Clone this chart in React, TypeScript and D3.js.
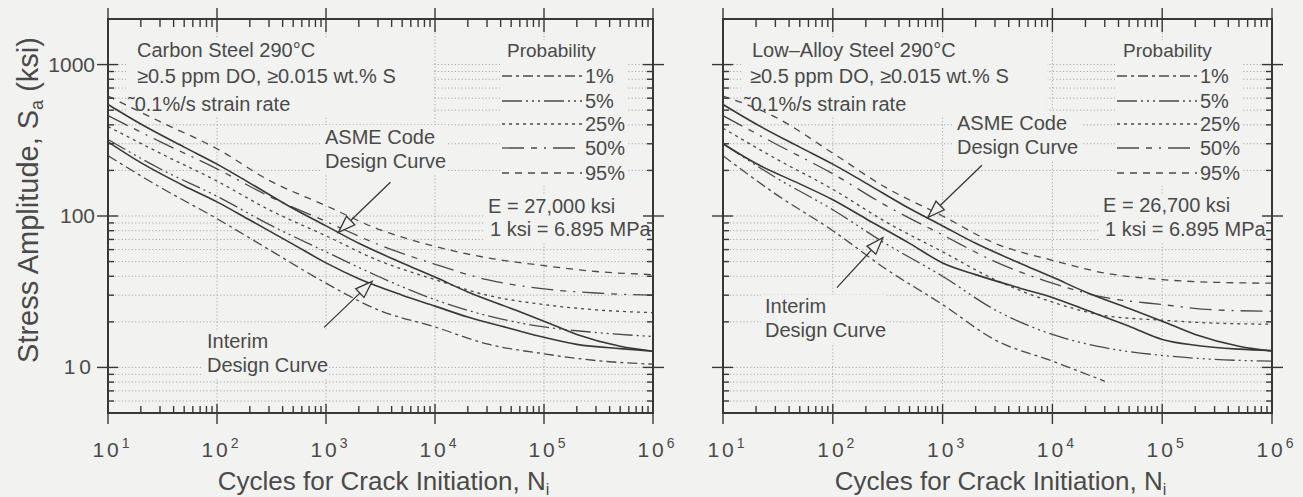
import React from 'react';
import * as d3 from 'd3';

// Cycle grid shared by the two design curves
const cycles = [10, 20, 50, 100, 200, 500, 1e3, 2e3, 5e3, 1e4, 2e4, 5e4, 1e5, 2e5, 5e5, 1e6];
// ASME Code design curve (carbon and low-alloy steels), ksi
const asmeDesign = [545, 405, 285, 220, 165, 112, 86, 66, 49, 39.5, 31.5, 24.5, 20.2, 16.5, 13.8, 12.8];
// Interim design curves, ksi
const csInterim = [309, 225, 158, 124, 94, 65, 49, 38.5, 30, 25.4, 21.5, 18, 15.8, 14.2, 13.3, 12.8];
const lasInterim = [300, 222, 163, 128, 96, 66, 49, 41, 33.5, 29, 24, 18.7, 15.3, 14, 13.2, 12.9];

// Cycle grid for the probabilistic curves
const pCycles = [10, 30, 100, 300, 1e3, 3e3, 1e4, 3e4, 1e5, 3e5, 1e6];
// Carbon steel, probability curves (ksi)
const cs1 = [250, 155, 96, 60, 36, 24, 18.5, 14.3, 12.3, 11.1, 10.5];
const cs5 = [320, 205, 135, 88, 58, 40, 28, 22, 18.5, 17, 16];
const cs25 = [390, 260, 170, 110, 74, 51, 38, 30, 26, 24, 23];
const cs50 = [460, 310, 205, 135, 92, 65, 48, 38, 33, 31, 30];
const cs95 = [620, 420, 278, 172, 117, 82, 63, 53, 47, 43, 41];
// Low-alloy steel, probability curves (ksi)
const las1 = [250, 140, 80, 45, 26, 15.2, 11, 8.1];
const las5 = [300, 180, 110, 66, 40, 24, 16.5, 13.5, 12, 11.3, 11];
const las25 = [380, 240, 150, 92, 58, 38, 27, 22, 20.5, 19.6, 19.3];
const las50 = [460, 300, 190, 118, 75, 50, 36, 29, 26, 24, 23.5];
const las95 = [620, 450, 260, 155, 100, 66, 51, 42, 38, 36.5, 36];

const probLabels = ['1%', '5%', '25%', '50%', '95%'];
const probDashes = ['10,4,3,4', '20,4,2,4,2,4,2,4', '3,4', '22,7,6,7,2,7', '7,6'];

const xDecades = [1, 2, 3, 4, 5, 6];
const yLabels = [
  { v: 1000, t: '1000' },
  { v: 100, t: '100' },
  { v: 10, t: '10' },
];

const FONT = '"Liberation Sans", Arial, Helvetica, sans-serif';
const INK = '#383838';
const TEXT = '#4a4a4a';
const GRID = '#a9a9a9';
const BG = '#f2f2f0';

type Pt = [number, number];
const zip = (xs: number[], ys: number[]): Pt[] =>
  ys.map((v, i) => [xs[i], v] as Pt);

type PanelCfg = {
  id: string;
  left: number;
  right: number;
  top: number;
  bottom: number;
  yLabels: boolean;
  header: string[];
  headerX: number[];
  probs: number[][];
  interim: number[];
  probTitleX: number;
  legendLine: [number, number];
  labelX: number;
  eText: string;
  eXY: [number, number];
  convXY: [number, number];
  asmeXY: [number, number];
  interimXY: [number, number];
  asmeArrow: { tip: Pt; dx: number; dy: number };
  interimArrow: { tip: Pt; dx: number; dy: number };
  masks: [number, number, number, number][];
};

const panels: PanelCfg[] = [
  {
    id: 'cs',
    left: 108,
    right: 653,
    top: 19,
    bottom: 413,
    yLabels: true,
    header: ['Carbon Steel 290°C', '≥0.5 ppm DO, ≥0.015 wt.% S', '˜0.1%/s strain rate'],
    headerX: [137, 137, 128],
    probs: [cs1, cs5, cs25, cs50, cs95],
    interim: csInterim,
    probTitleX: 507,
    legendLine: [502, 582],
    labelX: 585,
    eText: 'E = 27,000 ksi',
    eXY: [488, 213],
    convXY: [490, 236],
    asmeXY: [325, 144],
    interimXY: [207, 348],
    asmeArrow: { tip: [1300, 78], dx: 52, dy: -50 },
    interimArrow: { tip: [2650, 37], dx: -48, dy: 46 },
    masks: [
      [126, 38, 306, 79],
      [500, 40, 126, 146],
      [484, 194, 168, 48],
      [321, 125, 126, 49],
      [203, 330, 124, 48],
    ],
  },
  {
    id: 'las',
    left: 723,
    right: 1272,
    top: 19,
    bottom: 413,
    yLabels: false,
    header: ['Low–Alloy Steel 290°C', '≥0.5 ppm DO, ≥0.015 wt.% S', '˜0.1%/s strain rate'],
    headerX: [752, 750, 744],
    probs: [las1, las5, las25, las50, las95],
    interim: lasInterim,
    probTitleX: 1123,
    legendLine: [1117, 1197],
    labelX: 1200,
    eText: 'E = 26,700 ksi',
    eXY: [1103, 212],
    convXY: [1105, 236],
    asmeXY: [957, 130],
    interimXY: [765, 313],
    asmeArrow: { tip: [735, 98], dx: 54, dy: -52 },
    interimArrow: { tip: [286, 72], dx: -46, dy: 50 },
    masks: [
      [741, 38, 306, 79],
      [1115, 40, 126, 146],
      [1099, 194, 164, 48],
      [953, 111, 128, 50],
      [761, 295, 124, 48],
    ],
  },
];

const legendBaselines = [83, 108, 131, 155, 180];
const headerBaselines = [57, 83, 111];

function Arrow({ tx, ty, dx, dy }: { tx: number; ty: number; dx: number; dy: number }) {
  const len = Math.hypot(dx, dy);
  const ux = -dx / len;
  const uy = -dy / len;
  const hl = 17;
  const hw = 6;
  const bx = tx - ux * hl;
  const by = ty - uy * hl;
  const nx = -uy;
  const ny = ux;
  return (
    <g>
      <line x1={tx + dx} y1={ty + dy} x2={bx} y2={by} stroke={INK} strokeWidth={1.3} />
      <polygon
        points={`${tx},${ty} ${bx + nx * hw},${by + ny * hw} ${bx - nx * hw},${by - ny * hw}`}
        fill={BG}
        stroke={INK}
        strokeWidth={1.3}
        strokeLinejoin="miter"
      />
    </g>
  );
}

function Panel({ cfg }: { cfg: PanelCfg }) {
  const x = d3.scaleLog().domain([10, 1e6]).range([cfg.left, cfg.right]);
  const y = d3.scaleLog().domain([5, 2000]).range([cfg.bottom, cfg.top]);
  const line = d3
    .line<Pt>()
    .x((d) => x(d[0]))
    .y((d) => y(d[1]))
    .curve(d3.curveMonotoneX);

  const isMajor = (v: number) => Math.abs(Math.log10(v) - Math.round(Math.log10(v))) < 1e-9;
  const xTicks = x.ticks();
  const yTicks = y.ticks();
  const clipId = `clip-${cfg.id}`;
  const midX = (cfg.left + cfg.right) / 2;

  return (
    <g>
      <defs>
        <clipPath id={clipId}>
          <rect x={cfg.left} y={cfg.top} width={cfg.right - cfg.left} height={cfg.bottom - cfg.top} />
        </clipPath>
      </defs>

      {/* dotted grid */}
      <g stroke={GRID} strokeWidth={1} strokeDasharray="1.2,2.2" fill="none">
        {yTicks
          .filter((v) => v > 5 && v < 2000)
          .map((v) => (
            <line key={`gy${v}`} x1={cfg.left} x2={cfg.right} y1={y(v)} y2={y(v)} />
          ))}
        {xDecades.slice(1, -1).map((p) => (
          <line key={`gx${p}`} x1={x(10 ** p)} x2={x(10 ** p)} y1={cfg.top} y2={cfg.bottom} />
        ))}
      </g>

      {/* text blocks hide the grid behind them */}
      {cfg.masks.map((m, i) => (
        <rect key={`m${i}`} x={m[0]} y={m[1]} width={m[2]} height={m[3]} fill={BG} />
      ))}

      {/* curves */}
      <g clipPath={`url(#${clipId})`} fill="none">
        {cfg.probs.map((arr, i) => (
          <path
            key={`p${i}`}
            d={line(zip(pCycles, arr)) || ''}
            stroke="#4a4a4a"
            strokeWidth={1.3}
            strokeDasharray={probDashes[i]}
          />
        ))}
        <path d={line(zip(cycles, asmeDesign)) || ''} stroke={INK} strokeWidth={1.6} />
        <path d={line(zip(cycles, cfg.interim)) || ''} stroke={INK} strokeWidth={1.6} />
      </g>

      {/* frame */}
      <rect
        x={cfg.left}
        y={cfg.top}
        width={cfg.right - cfg.left}
        height={cfg.bottom - cfg.top}
        fill="none"
        stroke={INK}
        strokeWidth={2}
      />

      {/* ticks */}
      <g stroke={INK} strokeWidth={1.4}>
        {xTicks.map((v) => {
          const px = x(v);
          const major = isMajor(v);
          return (
            <g key={`tx${v}`}>
              <line x1={px} x2={px} y1={major ? cfg.bottom + 11 : cfg.bottom} y2={cfg.bottom - (major ? 9 : 7)} />
              <line x1={px} x2={px} y1={major ? cfg.top - 11 : cfg.top} y2={cfg.top + (major ? 13 : 8)} />
            </g>
          );
        })}
        {yTicks.map((v) => {
          const py = y(v);
          const major = isMajor(v);
          return (
            <g key={`ty${v}`}>
              <line x1={major ? cfg.left - 11 : cfg.left} x2={cfg.left + (major ? 10 : 6)} y1={py} y2={py} />
              <line x1={major ? cfg.right + 11 : cfg.right} x2={cfg.right - (major ? 10 : 6)} y1={py} y2={py} />
            </g>
          );
        })}
      </g>

      <g fontFamily={FONT} fill={TEXT}>
        {/* x tick labels */}
        {xDecades.map((p) => (
          <text key={`xl${p}`} x={x(10 ** p) + 3} y={457} fontSize={21} textAnchor="middle">
            <tspan letterSpacing={3}>10</tspan>
            <tspan fontSize={14} dy={-9}>
              {p}
            </tspan>
          </text>
        ))}

        {/* y tick labels */}
        {cfg.yLabels &&
          yLabels.map((d) => (
            <text
              key={`yl${d.v}`}
              x={95}
              y={y(d.v) + 7}
              fontSize={21}
              textAnchor="end"
              letterSpacing={d.t === '10' ? 4 : 0}
            >
              {d.t}
            </text>
          ))}

        {/* x title */}
        <text x={midX + 3} y={490} fontSize={26} textAnchor="middle">
          Cycles for Crack Initiation, N
          <tspan fontSize={16} dy={5}>
            i
          </tspan>
        </text>

        {/* header */}
        {cfg.header.map((t, i) => (
          <text key={`h${i}`} x={cfg.headerX[i]} y={headerBaselines[i]} fontSize={20}>
            {t}
          </text>
        ))}

        {/* legend */}
        <text x={cfg.probTitleX} y={57} fontSize={19}>
          Probability
        </text>
        {probLabels.map((lab, i) => (
          <g key={`lg${i}`}>
            <line
              x1={cfg.legendLine[0]}
              x2={cfg.legendLine[1]}
              y1={legendBaselines[i] - 7}
              y2={legendBaselines[i] - 7}
              stroke="#4a4a4a"
              strokeWidth={1.3}
              strokeDasharray={probDashes[i]}
            />
            <text x={cfg.labelX} y={legendBaselines[i]} fontSize={20}>
              {lab}
            </text>
          </g>
        ))}

        <text x={cfg.eXY[0]} y={cfg.eXY[1]} fontSize={20}>
          {cfg.eText}
        </text>
        <text x={cfg.convXY[0]} y={cfg.convXY[1]} fontSize={20}>
          1 ksi = 6.895 MPa
        </text>

        <text x={cfg.asmeXY[0]} y={cfg.asmeXY[1]} fontSize={20}>
          ASME Code
        </text>
        <text x={cfg.asmeXY[0]} y={cfg.asmeXY[1] + 24} fontSize={20}>
          Design Curve
        </text>
        <text x={cfg.interimXY[0]} y={cfg.interimXY[1]} fontSize={20}>
          Interim
        </text>
        <text x={cfg.interimXY[0]} y={cfg.interimXY[1] + 24} fontSize={20}>
          Design Curve
        </text>
      </g>

      <Arrow
        tx={x(cfg.asmeArrow.tip[0])}
        ty={y(cfg.asmeArrow.tip[1])}
        dx={cfg.asmeArrow.dx}
        dy={cfg.asmeArrow.dy}
      />
      <Arrow
        tx={x(cfg.interimArrow.tip[0])}
        ty={y(cfg.interimArrow.tip[1])}
        dx={cfg.interimArrow.dx}
        dy={cfg.interimArrow.dy}
      />
    </g>
  );
}

export default function App() {
  const W = 1303;
  const H = 497;
  return (
    <svg
      width={W}
      height={H}
      viewBox={`0 0 ${W} ${H}`}
      style={{ position: 'absolute', left: 0, top: 0, display: 'block' }}
    >
      <rect x={0} y={0} width={W} height={H} fill={BG} />
      {panels.map((p) => (
        <Panel key={p.id} cfg={p} />
      ))}
      <text
        transform="translate(38,200) rotate(-90)"
        fontFamily={FONT}
        fill={TEXT}
        fontSize={29}
        textAnchor="middle"
      >
        Stress Amplitude, S
        <tspan fontSize={18} dy={5}>
          a
        </tspan>
        <tspan dy={-5}> (ksi)</tspan>
      </text>
    </svg>
  );
}
